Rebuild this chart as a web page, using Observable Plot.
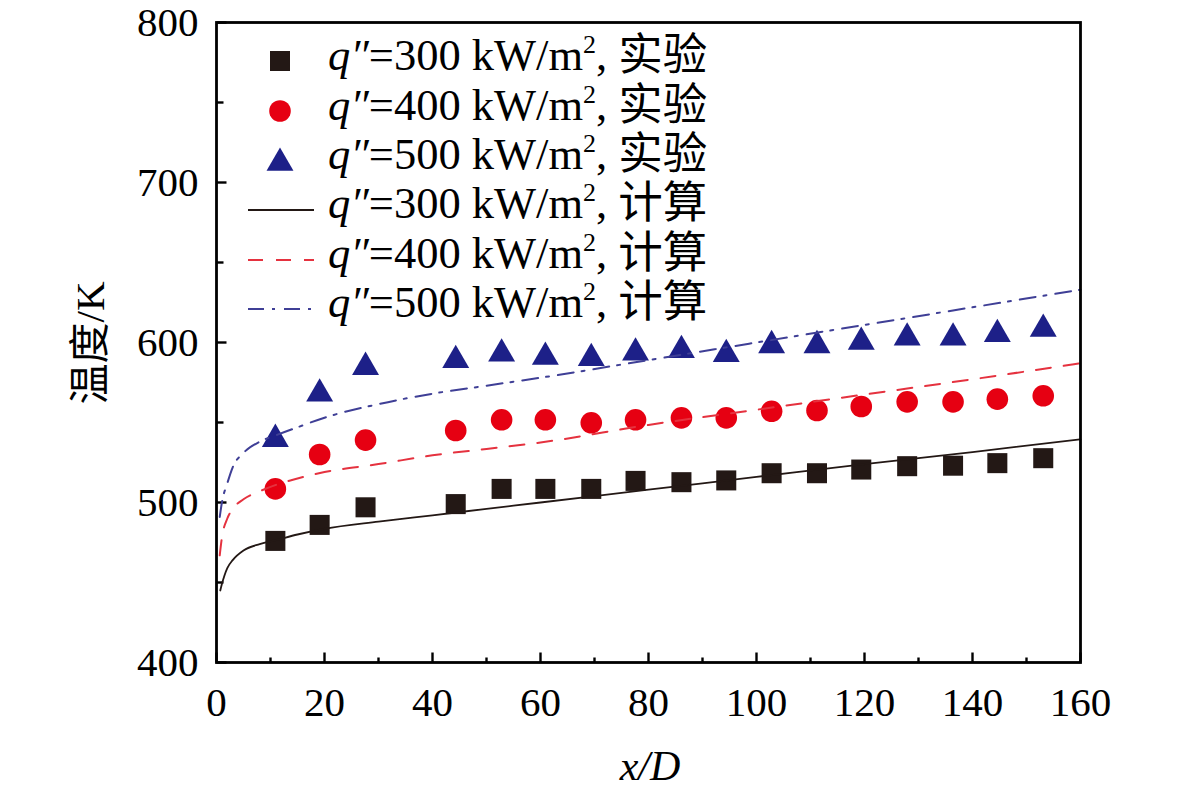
<!DOCTYPE html>
<html>
<head>
<meta charset="utf-8">
<script src="https://cdn.jsdelivr.net/npm/d3@7"></script>
<script src="https://cdn.jsdelivr.net/npm/@observablehq/plot@0.6"></script>
<style>
  html, body { margin: 0; padding: 0; background: #fff; }
  #chart { width: 1181px; height: 795px; }
</style>
</head>
<body>
<div id="chart"></div>
<script>
// ---- data ----
const xMajorTicks = [0, 20, 40, 60, 80, 100, 120, 140, 160];
const xMinorTicks = [10, 30, 50, 70, 90, 110, 130, 150];
const yMajorTicks = [400, 500, 600, 700, 800];
const yMinorTicks = [450, 550, 650, 750];

const expX = [10.9, 19.1, 27.6, 44.3, 52.8, 60.9, 69.4, 77.6, 86.1, 94.4, 102.8, 111.2, 119.4, 127.9, 136.4, 144.6, 153.1];
const exp300 = [476, 486, 497, 499, 508.5, 508.5, 508.5, 513.5, 512.7, 513.8, 518.3, 518.3, 520.6, 522.7, 523, 524.6, 527.7];
const exp400 = [508.5, 530, 539, 545, 551.7, 551.7, 549.8, 551.7, 552.9, 552.9, 557, 557.5, 560, 562.9, 562.9, 564.6, 566.7];
const exp500 = [539.6, 568, 584.6, 588.9, 593, 590.9, 590.1, 593.6, 595.1, 592.6, 598.2, 598.2, 600.3, 603, 603, 605.1, 608.4];

const calcX300 = [0.7, 1, 2, 3, 5, 8, 11, 15, 20, 30, 40, 50, 60, 80, 100, 120, 140, 160];
const calc300 = [445, 449, 459, 464, 470, 474, 476.5, 480, 483.5, 488, 492, 496, 500, 508, 516, 524, 531.5, 539.5];
const calcX400 = [0.6, 1, 2, 3, 5, 8, 11, 15, 20, 30, 40, 50, 60, 80, 100, 120, 140, 160];
const calc400 = [467, 478, 490, 496, 502, 507, 511, 515, 519, 524, 529.5, 533.5, 537.5, 548.5, 558, 567.5, 577, 587];
const calcX500 = [0.6, 1, 2, 3, 5, 8, 11, 15, 20, 30, 40, 50, 60, 80, 100, 120, 140, 160];
const calc500 = [491, 500, 512, 522, 531, 538, 542, 547, 553, 561.5, 568, 573, 578, 589, 600, 611, 622, 633];

const heatFluxes = ["300", "400", "500"];
const kindLabels = ["实验", "计算"];
const xLabel = "x/D";
const yLabel = "温度/K";

// ---- styles ----
const colBlack = "#231815", colRed = "#e60012", colBlue = "#1d2088";
const lineRed = "#e5323f", lineBlue = "#3f3f96";
const serif = "'Liberation Serif', 'Times New Roman', 'Noto Sans CJK SC', serif";

const pts = (xs, ys) => xs.map((x, i) => ({x, y: ys[i]}));
const tickOpts = {anchor: "start", stroke: "black", strokeWidth: 2.4, r: 0, strokeLinecap: "butt"};

const svg = Plot.plot({
  width: 1181,
  height: 795,
  marginLeft: 216,
  marginRight: 101,
  marginTop: 22,
  marginBottom: 133,
  style: {fontFamily: serif, fontSize: "41px", color: "black", background: "white"},
  x: {domain: [0, 160]},
  y: {domain: [400, 800]},
  marks: [
    Plot.axisX({ticks: xMajorTicks, tickSize: 0, tickPadding: 24, label: null, fontSize: 41}),
    Plot.axisY({ticks: yMajorTicks, tickSize: 0, tickPadding: 18, label: null, fontSize: 41}),
    Plot.vector(xMajorTicks, {x: d => d, frameAnchor: "bottom", length: 10, rotate: 0, ...tickOpts}),
    Plot.vector(xMinorTicks, {x: d => d, frameAnchor: "bottom", length: 5, rotate: 0, ...tickOpts}),
    Plot.vector(yMajorTicks, {y: d => d, frameAnchor: "left", length: 10, rotate: 90, ...tickOpts}),
    Plot.vector(yMinorTicks, {y: d => d, frameAnchor: "left", length: 7, rotate: 90, ...tickOpts}),
    Plot.dot(pts(expX, exp300), {x: "x", y: "y", symbol: "square", r: 11.3, fill: colBlack}),
    Plot.dot(pts(expX, exp400), {x: "x", y: "y", symbol: "circle", r: 10.8, fill: colRed}),
    Plot.dot(pts(expX, exp500), {x: "x", y: "y", symbol: "triangle", r: 10, fill: colBlue}),
    Plot.line(pts(calcX300, calc300), {x: "x", y: "y", stroke: colBlack, strokeWidth: 1.8, curve: "monotone-x"}),
    Plot.line(pts(calcX400, calc400), {x: "x", y: "y", stroke: lineRed, strokeWidth: 2, strokeDasharray: "15,13", curve: "monotone-x"}),
    Plot.line(pts(calcX500, calc500), {x: "x", y: "y", stroke: lineBlue, strokeWidth: 2, strokeDasharray: "16,8,3,9", curve: "monotone-x"}),
    Plot.frame({stroke: "black", strokeWidth: 2.8})
  ]
});

document.getElementById("chart").appendChild(svg);

const s = d3.select(svg);

// axis titles
s.append("text")
  .attr("x", 650).attr("y", 780)
  .attr("text-anchor", "middle")
  .attr("font-family", serif).attr("font-size", 42).attr("font-style", "italic")
  .attr("fill", "black")
  .text(xLabel);

s.append("text")
  .attr("transform", "translate(104,343) rotate(-90)")
  .attr("text-anchor", "middle")
  .attr("font-family", serif).attr("font-size", 41)
  .attr("fill", "black")
  .text(yLabel);

// legend
const lg = s.append("g").attr("font-family", serif).attr("fill", "black").attr("text-anchor", "start");
const rowY = [70, 120, 169, 218, 268, 317];
const symX = 280;
const textX = 328;
const entries = [
  {q: heatFluxes[0], kind: kindLabels[0], type: "sym", sym: d3.symbolSquare, r: 11.3, fill: colBlack, dy: -9},
  {q: heatFluxes[1], kind: kindLabels[0], type: "sym", sym: d3.symbolCircle, r: 10.8, fill: colRed, dy: -9},
  {q: heatFluxes[2], kind: kindLabels[0], type: "sym", sym: d3.symbolTriangle, r: 10, fill: colBlue, dy: -6},
  {q: heatFluxes[0], kind: kindLabels[1], type: "line", stroke: colBlack, dash: null, w: 1.8},
  {q: heatFluxes[1], kind: kindLabels[1], type: "line", stroke: lineRed, dash: "15,13", w: 2},
  {q: heatFluxes[2], kind: kindLabels[1], type: "line", stroke: lineBlue, dash: "16,8,3,9", w: 2}
];
entries.forEach((e, i) => {
  const y = rowY[i];
  if (e.type === "sym") {
    lg.append("path")
      .attr("transform", `translate(${symX},${y + e.dy})`)
      .attr("d", d3.symbol(e.sym, Math.PI * e.r * e.r)())
      .attr("fill", e.fill);
  } else {
    lg.append("line")
      .attr("x1", 248).attr("x2", 314)
      .attr("y1", y - 8).attr("y2", y - 8)
      .attr("stroke", e.stroke).attr("stroke-width", e.w)
      .attr("stroke-dasharray", e.dash);
  }
  const t = lg.append("text").attr("x", textX).attr("y", y).attr("font-size", 44.5).attr("text-anchor", "start");
  t.append("tspan").attr("font-style", "italic").text("q″");
  t.append("tspan").text(`=${e.q} kW/m`);
  t.append("tspan").attr("font-size", 26).attr("dy", -17).text("2");
  t.append("tspan").attr("dy", 17).text(", " + e.kind);
});
</script>
</body>
</html>
